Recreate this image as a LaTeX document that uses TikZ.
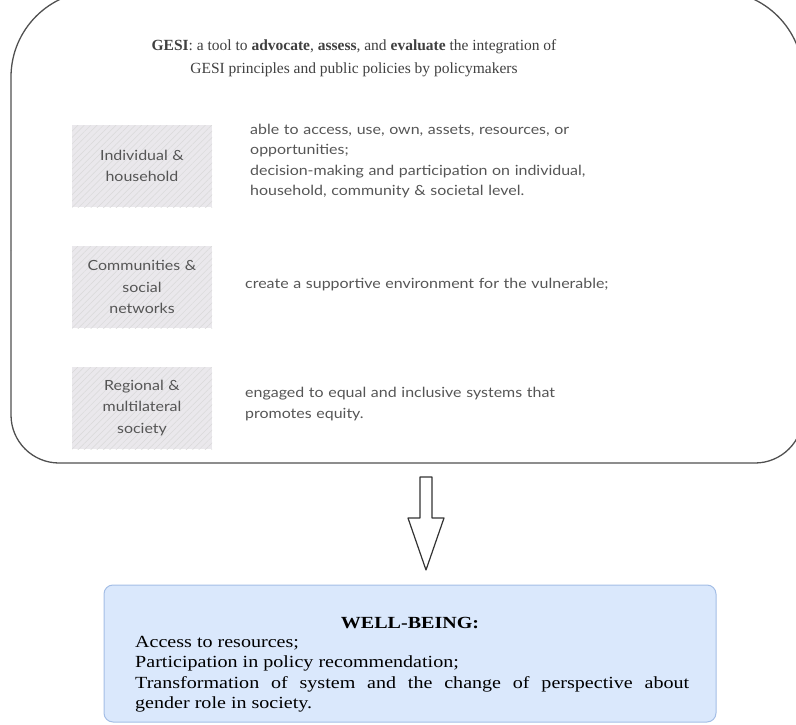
\documentclass[tikz,border=0pt]{standalone}
\usepackage{fontspec}
\setmainfont{Liberation Serif}
\newfontfamily\handfont[FakeStretch=1.14]{Lato}
\newfontfamily\wellfont[FakeStretch=1.18]{Liberation Serif}
\usetikzlibrary{patterns.meta}
\definecolor{wellfill}{HTML}{DAE8FC}
\definecolor{welldraw}{HTML}{A4BEE6}
\definecolor{handgray}{HTML}{555555}
\definecolor{outergray}{HTML}{505050}
\definecolor{levelfill}{HTML}{EAE8EC}

\begin{document}
\begin{tikzpicture}[x=1pt,y=-1pt,
    outer/.style={draw=outergray, line width=1.3pt},
    levelbox/.style={fill=levelfill,
      postaction={pattern={Lines[distance=4.5pt, angle=45, line width=0.5pt]}, pattern color=white!70!gray},
      minimum width=140pt, minimum height=82pt, text width=132pt, align=center, inner sep=0pt,
      font=\handfont\fontsize{14}{21.5}\selectfont, text=handgray},
    desc/.style={anchor=west, text width=420pt, align=left, inner sep=0pt,
      font=\handfont\fontsize{14}{20.5}\selectfont, text=handgray},
    wellbox/.style={fill=wellfill, draw=welldraw, line width=1pt, rounded corners=9pt,
      minimum width=612pt, minimum height=137pt, inner sep=0pt},
    blockarrow/.style={draw=black!80, line width=1.2pt, fill=white, line join=round}
  ]
    \useasboundingbox (0,0) rectangle (796,725);

    % outer frame, cut at the top
    \draw[outer, rounded corners=48pt] (11,250) -- (11,463) -- (803,463) -- (803,250);
    \draw[outer, rounded corners=86pt] (11,250) -- (11,-9) -- (803,-9) -- (803,250);

    \node[align=center, inner sep=0pt, text=black!75, font=\fontsize{15.5}{23}\selectfont] (title) at (354,58)
        {\textbf{GESI}: a tool to \textbf{advocate}, \textbf{assess}, and \textbf{evaluate} the integration of\\
         GESI principles and public policies by policymakers};

    % levels
    \node[levelbox] (individual) at (142,166) {Individual \&\\ household};
    \node[levelbox] (community) at (142,287) {Communities \&\\ social\\ networks};
    \node[levelbox] (regional) at (142,408) {Regional \&\\ multilateral\\ society};

    \node[desc] (individualtxt) at (250,161) {able to access, use, own, assets, resources, or\\ opportunities;\\
        decision-making and participation on individual,\\ household, community \& societal level.};
    \node[desc] (communitytxt) at (245,285) {create a supportive environment for the vulnerable;};
    \node[desc] (regionaltxt) at (245,404) {engaged to equal and inclusive systems that\\ promotes equity.};

    % result
    \node[wellbox] (wellbeing) at (410,653.5) {};
    \node[inner sep=0pt, font=\wellfont\fontsize{17}{20.5}\selectfont\bfseries] (welltitle) at (410,623) {WELL-BEING:};
    \node[anchor=north west, inner sep=0pt, text width=554pt, align=justify,
        font=\wellfont\fontsize{17}{20.5}\selectfont] (wellbody) at (135,636)
        {\tolerance=10000
         Access to resources;\\ Participation in policy recommendation;\\
         Transformation of system and the change of perspective about\linebreak gender role in society.};

    \coordinate (arrowtop) at (426,477);
    \draw[blockarrow] (arrowtop) ++(-6,0) -- ++(12,0) -- ++(0,41) -- ++(12,0) -- ++(-18,52)
        -- ++(-18,-52) -- ++(12,0) -- cycle;
\end{tikzpicture}
\end{document}
